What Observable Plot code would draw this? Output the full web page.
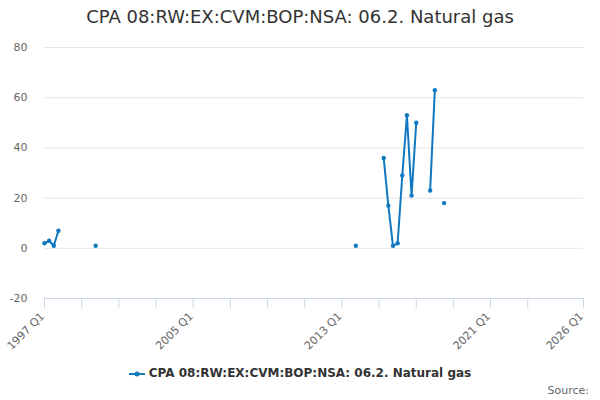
<!DOCTYPE html>
<html>
<head>
<meta charset="utf-8">
<script src="https://cdn.jsdelivr.net/npm/d3@7"></script>
<script src="https://cdn.jsdelivr.net/npm/@observablehq/plot@0.6"></script>
<style>
  html, body { margin: 0; padding: 0; background: #fff; }
  #wrap { position: relative; width: 600px; height: 400px; font-family: "DejaVu Sans", sans-serif; overflow: hidden; }
  #title { position: absolute; left: 0; top: 6px; width: 600px; text-align: center; font-size: 18px; color: #333; }
  #chart { position: absolute; left: 0; top: 36px; }
  #legend { position: absolute; left: 0; top: 366px; width: 600px; text-align: center; font-size: 12px; font-weight: bold; color: #333; }
  #legend svg { vertical-align: middle; margin-right: 4px; }
  #source { position: absolute; right: 11px; top: 384px; font-size: 11px; color: #666; }
</style>
</head>
<body>
<div id="wrap">
  <div id="title"></div>
  <div id="chart"></div>
  <div id="legend"></div>
  <div id="source">Source:</div>
</div>
<script>
const titleText = "CPA 08:RW:EX:CVM:BOP:NSA: 06.2. Natural gas";
const seriesName = "CPA 08:RW:EX:CVM:BOP:NSA: 06.2. Natural gas";
const quarters = ["1997 Q1","1997 Q2","1997 Q3","1997 Q4","1998 Q1","1999 Q4","2000 Q1","2013 Q4","2014 Q1",
  "2015 Q2","2015 Q3","2015 Q4","2016 Q1","2016 Q2","2016 Q3","2016 Q4","2017 Q1","2017 Q2",
  "2017 Q4","2018 Q1","2018 Q2","2018 Q3"];
const values = [2,3,1,7,null,1,null,1,null,36,17,1,2,29,53,21,50,null,23,63,null,18];
const xTickLabels = ["1997 Q1","1999 Q1","2001 Q1","2003 Q1","2005 Q1","2007 Q1","2009 Q1","2011 Q1","2013 Q1","2015 Q1","2017 Q1","2019 Q1","2021 Q1","2023 Q1","2026 Q1"];
const xShownLabels = ["1997 Q1","2005 Q1","2013 Q1","2021 Q1","2026 Q1"];
const yTicks = [-20,0,20,40,60,80];

const toNum = s => { const [y, q] = s.split(" Q"); return +y + (+q - 1) / 4; };
const data = quarters.map((q, i) => ({x: toNum(q), label: q, y: values[i]}));
const xTicks = xTickLabels.map(toNum);
const shownLabels = xShownLabels.map(l => ({x: toNum(l), label: l}));
const color = "#0f78bf";

document.getElementById("title").textContent = titleText;

const chart = Plot.plot({
  width: 600,
  height: 330,
  marginLeft: 44,
  marginRight: 17,
  marginTop: 11,
  marginBottom: 68,
  style: {fontFamily: "DejaVu Sans, sans-serif", fontSize: "11px", color: "#666", background: "transparent", overflow: "visible"},
  x: {domain: [toNum("1997 Q1"), toNum("2026 Q1")]},
  y: {domain: [-20, 80]},
  marks: [
    Plot.gridY(yTicks.filter(t => t > -20), {stroke: "#e6e6e6", strokeOpacity: 1}),
    Plot.axisY(yTicks, {tickSize: 0, tickPadding: 17, label: null, fill: "#666", fontSize: 11, tickFormat: d => String(d)}),
    Plot.ruleY([-20], {stroke: "#ccd6eb"}),
    Plot.axisX(xTicks, {
      tickSize: 10, stroke: "#ccd6eb", strokeOpacity: 1, label: null, tickFormat: () => ""
    }),
    Plot.text(shownLabels, {
      x: "x", y: () => -20, text: "label", rotate: -45, textAnchor: "end", lineAnchor: "middle",
      dx: -2, dy: 16, fill: "#666", fontSize: 11
    }),
    Plot.line(data, {x: "x", y: "y", stroke: color, strokeWidth: 2, curve: "linear"}),
    Plot.dot(data.filter(d => d.y != null), {x: "x", y: "y", fill: color, r: 2.2, stroke: null})
  ]
});
document.getElementById("chart").appendChild(chart);

const legend = document.getElementById("legend");
const ns = "http://www.w3.org/2000/svg";
const ls = document.createElementNS(ns, "svg");
ls.setAttribute("width", 16); ls.setAttribute("height", 10);
const ln = document.createElementNS(ns, "line");
ln.setAttribute("x1", 0); ln.setAttribute("x2", 16); ln.setAttribute("y1", 5); ln.setAttribute("y2", 5);
ln.setAttribute("stroke", color); ln.setAttribute("stroke-width", 2);
const c = document.createElementNS(ns, "circle");
c.setAttribute("cx", 8); c.setAttribute("cy", 5); c.setAttribute("r", 2.5); c.setAttribute("fill", color);
ls.appendChild(ln); ls.appendChild(c);
legend.appendChild(ls);
legend.appendChild(document.createTextNode(seriesName));
</script>
</body>
</html>
